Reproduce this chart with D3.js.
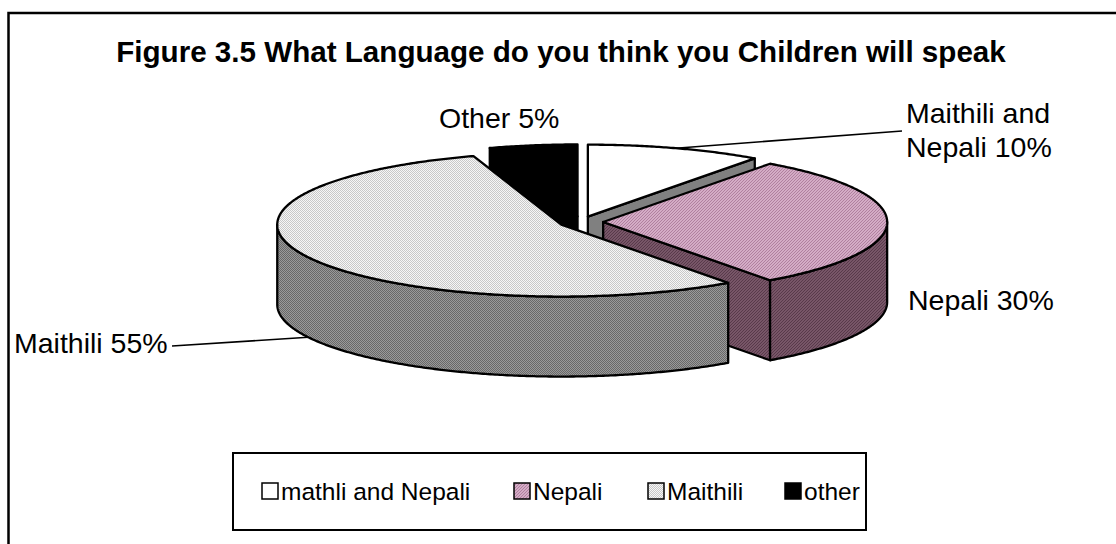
<!DOCTYPE html>
<html><head><meta charset="utf-8">
<script src="https://cdn.jsdelivr.net/npm/d3@7"></script>
<style>body{margin:0;background:#fff}svg{display:block}text{font-family:Arial,"Liberation Sans",sans-serif;fill:#000}</style>
</head><body><svg id="c" width="1116" height="544"></svg>
<script>
// ---- data ----
const categories = ["mathli and Nepali", "Nepali", "Maithili", "other"];
const values = [10, 30, 55, 5];
const sliceLabels = [["Maithili and", "Nepali 10%"], ["Nepali 30%"], ["Maithili 55%"], ["Other 5%"]];
const titleText = "Figure 3.5 What Language do you think you Children will speak";

// ---- layout ----
const W = 1116, H = 544;
const cx = 581, cy = 222, rx = 284, ry = 72, depth = 80, explode = 0.078;
const labelLayout = [
  {x: 906, y: 123, lh: 34, leader: [902, 131], z: 0},
  {x: 908, y: 310},
  {x: 14, y: 353, leader: [172, 346], z: 80},
  {x: 439, y: 128}
];
const legendBox = {x: 233, y: 453, w: 633, h: 77};
const legendX = [262, 514, 648, 785];
const legendY = 483, sw = 16;

const svg = d3.select("#c");
const defs = svg.append("defs");
function checker(id, bg, fg, size) {
  const p = defs.append("pattern").attr("id", id).attr("patternUnits", "userSpaceOnUse")
    .attr("width", size * 2).attr("height", size * 2);
  p.append("rect").attr("width", size * 2).attr("height", size * 2).attr("fill", bg);
  p.append("rect").attr("width", size).attr("height", size).attr("fill", fg);
  p.append("rect").attr("x", size).attr("y", size).attr("width", size).attr("height", size).attr("fill", fg);
}
function hatch(id, bg, fg) {
  const p = defs.append("pattern").attr("id", id).attr("patternUnits", "userSpaceOnUse")
    .attr("width", 3).attr("height", 3);
  p.append("rect").attr("width", 3).attr("height", 3).attr("fill", bg);
  p.append("path").attr("d", "M0,3L3,0M-1,1L1,-1M2,4L4,2").attr("stroke", fg).attr("stroke-width", 1);
}
checker("maiTop", "#f6f6f6", "#c8c8c8", 1);
checker("maiSide", "#9a9a9a", "#686868", 1);
hatch("nepTop", "#d4acc6", "#b0809f");
hatch("nepSide", "#785668", "#583a4a");

const topFill = ["#ffffff", "url(#nepTop)", "url(#maiTop)", "#000000"];
const sideFill = ["#808080", "url(#nepSide)", "url(#maiSide)", "#000000"];
const legendFill = ["#ffffff", "url(#nepTop)", "url(#maiTop)", "#000000"];

// frame (clipped by window on right and bottom)
svg.append("rect").attr("x", 8.5).attr("y", 13).attr("width", W + 20).attr("height", H + 20)
  .attr("fill", "#fff").attr("stroke", "#000").attr("stroke-width", 2.5);

// title
svg.append("text").attr("x", 561).attr("y", 62).attr("text-anchor", "middle")
  .attr("font-weight", "bold").attr("font-size", 29.6).text(titleText);

// ---- pie geometry ----
const xs = d3.scaleLinear().domain([-1, 1]).range([cx - rx, cx + rx]);
const ys = d3.scaleLinear().domain([-1, 1]).range([cy - ry, cy + ry]);
const arcs = d3.pie().sort(null).startAngle(0).endAngle(2 * Math.PI)(values);

function pt(a, r, off, z) {
  return [xs(off[0] + r * Math.sin(a)), ys(off[1] - r * Math.cos(a)) + z];
}
function arcPts(a0, a1, off, z) {
  const n = Math.max(2, Math.ceil(Math.abs(a1 - a0) / (Math.PI / 360)));
  return d3.range(n + 1).map(i => pt(a0 + (a1 - a0) * i / n, 1, off, z));
}
const line = d3.line();
const slices = arcs.map((d, i) => {
  const mid = (d.startAngle + d.endAngle) / 2;
  const off = [explode * Math.sin(mid), -explode * Math.cos(mid)];
  return {i, a0: d.startAngle, a1: d.endAngle, mid, off};
});

const walls = [];
slices.forEach(s => {
  const apexT = pt(0, 0, s.off, 0), apexB = pt(0, 0, s.off, depth);
  const v0 = Math.max(s.a0, Math.PI / 2), v1 = Math.min(s.a1, 3 * Math.PI / 2);
  if (v1 > v0) {
    const top = arcPts(v0, v1, s.off, 0), bot = arcPts(v0, v1, s.off, depth).reverse();
    walls.push({i: s.i, pts: top.concat(bot), key: pt((v0 + v1) / 2, 1, s.off, 0)[1]});
  }
  if (Math.sin(s.a1) > 1e-3) {
    const e = pt(s.a1, 1, s.off, 0), eb = pt(s.a1, 1, s.off, depth);
    walls.push({i: s.i, pts: [apexT, e, eb, apexB], key: (apexT[1] + e[1]) / 2});
  }
  if (-Math.sin(s.a0) > 1e-3) {
    const e = pt(s.a0, 1, s.off, 0), eb = pt(s.a0, 1, s.off, depth);
    walls.push({i: s.i, pts: [apexT, e, eb, apexB], key: (apexT[1] + e[1]) / 2});
  }
});
walls.sort((a, b) => a.key - b.key);

const pie = svg.append("g").attr("stroke", "#000").attr("stroke-width", 2.3).attr("stroke-linejoin", "round");
pie.selectAll("path.wall").data(walls).join("path").attr("class", "wall")
  .attr("d", w => line(w.pts) + "Z").attr("fill", w => sideFill[w.i]);
pie.selectAll("path.top").data(slices).join("path").attr("class", "top")
  .attr("d", s => line([pt(0, 0, s.off, 0)].concat(arcPts(s.a0, s.a1, s.off, 0))) + "Z")
  .attr("fill", s => topFill[s.i]);

// ---- labels ----
slices.forEach(s => {
  const L = labelLayout[s.i];
  if (L.leader) {
    const a = pt(s.mid, 1, s.off, L.z);
    svg.append("line").attr("x1", a[0]).attr("y1", a[1]).attr("x2", L.leader[0]).attr("y2", L.leader[1])
      .attr("stroke", "#000").attr("stroke-width", 1.6);
  }
  const t = svg.append("text").attr("x", L.x).attr("y", L.y).attr("font-size", 28.5);
  sliceLabels[s.i].forEach((ln, k) => {
    t.append("tspan").attr("x", L.x).attr("y", L.y + k * (L.lh || 0)).text(ln);
  });
});

// ---- legend ----
svg.append("rect").attr("x", legendBox.x).attr("y", legendBox.y).attr("width", legendBox.w)
  .attr("height", legendBox.h).attr("fill", "#fff").attr("stroke", "#000").attr("stroke-width", 2);
const lg = svg.append("g").selectAll("g").data(categories).join("g")
  .attr("transform", (d, i) => `translate(${legendX[i]},${legendY})`);
lg.append("rect").attr("width", sw).attr("height", sw).attr("fill", (d, i) => legendFill[i])
  .attr("stroke", "#000").attr("stroke-width", 1.5);
lg.append("text").attr("x", sw + 3).attr("y", sw + 1).attr("font-size", 24.5).text(d => d);
</script></body></html>
